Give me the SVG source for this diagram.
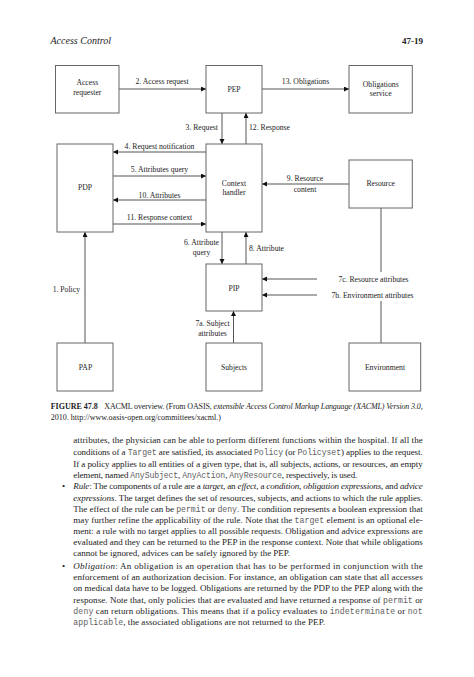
<svg xmlns="http://www.w3.org/2000/svg" width="474" height="677" viewBox="0 0 474 677">
<style>
.box{fill:#fff;stroke:#666;stroke-width:1}
.ln{stroke:#555;stroke-width:1;fill:none}
.t{font-family:"Liberation Serif",serif;font-size:7.7px;fill:#222}
.c{text-anchor:middle}
.e{text-anchor:end}
.body{font-family:"Liberation Serif",serif;font-size:9px;fill:#222}
.m{font-family:"Liberation Mono",monospace;fill:#606060;font-size:8.2px}
.i{font-style:italic}
.cap{font-family:"Liberation Serif",serif;font-size:8px;fill:#222}
</style>
<defs>
<marker id="ah" markerUnits="userSpaceOnUse" markerWidth="6" markerHeight="6" refX="5" refY="2.5" orient="auto">
<path d="M0,0 L5,2.5 L0,5 z" fill="#111"/>
</marker>
</defs>
<rect width="474" height="677" fill="#fff"/>
<text x="50.5" y="44" font-family="Liberation Serif,serif" font-style="italic" font-size="10" fill="#222">Access Control</text>
<text x="423" y="44" text-anchor="end" font-family="Liberation Serif,serif" font-weight="bold" font-size="9" fill="#222">47-19</text>

<g id="connectors">
<line class="ln" x1="119" y1="89" x2="206" y2="89" marker-end="url(#ah)"/>
<line class="ln" x1="262" y1="89" x2="349" y2="89" marker-end="url(#ah)"/>
<line class="ln" x1="222" y1="113" x2="222" y2="144" marker-end="url(#ah)"/>
<line class="ln" x1="246" y1="144" x2="246" y2="113" marker-end="url(#ah)"/>
<line class="ln" x1="206" y1="152" x2="113" y2="152" marker-end="url(#ah)"/>
<line class="ln" x1="113" y1="176" x2="206" y2="176" marker-end="url(#ah)"/>
<line class="ln" x1="206" y1="200" x2="113" y2="200" marker-end="url(#ah)"/>
<line class="ln" x1="113" y1="224" x2="206" y2="224" marker-end="url(#ah)"/>
<line class="ln" x1="349" y1="184" x2="262" y2="184" marker-end="url(#ah)"/>
<line class="ln" x1="222" y1="232" x2="222" y2="264" marker-end="url(#ah)"/>
<line class="ln" x1="246" y1="264" x2="246" y2="232" marker-end="url(#ah)"/>
<line class="ln" x1="85" y1="343" x2="85" y2="232" marker-end="url(#ah)"/>
<line class="ln" x1="233.5" y1="343" x2="233.5" y2="311" marker-end="url(#ah)"/>
<line class="ln" x1="317" y1="279" x2="262" y2="279" marker-end="url(#ah)"/>
<line class="ln" x1="317" y1="295" x2="262" y2="295" marker-end="url(#ah)"/>
<line class="ln" x1="381" y1="208" x2="381" y2="272"/>
<line class="ln" x1="381" y1="301" x2="381" y2="343"/>
<text class="t c" x="162" y="84">2. Access request</text>
<text class="t c" x="305.5" y="84">13. Obligations</text>
<text class="t e" x="218" y="129.5">3. Request</text>
<text class="t" x="249" y="129.5">12. Response</text>
<text class="t c" x="159.5" y="148.5">4. Request notification</text>
<text class="t c" x="159.5" y="172">5. Attributes query</text>
<text class="t c" x="159.5" y="197.5">10. Attributes</text>
<text class="t c" x="159.5" y="219.5">11. Response context</text>
<text class="t c" x="305" y="181.3">9. Resource</text>
<text class="t c" x="305" y="192.3">content</text>
<text class="t c" x="201.5" y="245">6. Attribute</text>
<text class="t c" x="201.5" y="254.5">query</text>
<text class="t" x="249" y="250.5">8. Attribute</text>
<text class="t c" x="373.5" y="282">7c. Resource attributes</text>
<text class="t c" x="372.5" y="298">7b. Environment attributes</text>
<text class="t e" x="80" y="292">1. Policy</text>
<text class="t c" x="212.5" y="326">7a. Subject</text>
<text class="t c" x="212.5" y="335.5">attributes</text>
</g>

<g id="access-requester"><rect class="box" x="55.5" y="65.5" width="63.5" height="47.5"/><text class="t c" x="87.3" y="85">Access</text><text class="t c" x="87.3" y="94.5">requester</text></g>
<g id="pep"><rect class="box" x="206" y="65.5" width="56" height="47.5"/><text class="t c" x="234" y="91.7">PEP</text></g>
<g id="obligations-service"><rect class="box" x="349" y="65.5" width="63.3" height="47.5"/><text class="t c" x="380.7" y="87">Obligations</text><text class="t c" x="380.7" y="96">service</text></g>
<g id="pdp"><rect class="box" x="57" y="144" width="56" height="88"/><text class="t c" x="85" y="190">PDP</text></g>
<g id="context-handler"><rect class="box" x="206" y="144" width="56" height="88"/><text class="t c" x="234" y="186">Context</text><text class="t c" x="234" y="195">handler</text></g>
<g id="resource"><rect class="box" x="349" y="160" width="63.3" height="48"/><text class="t c" x="380.7" y="185.5">Resource</text></g>
<g id="pip"><rect class="box" x="206" y="264" width="56" height="47"/><text class="t c" x="234" y="290.5">PIP</text></g>
<g id="pap"><rect class="box" x="57" y="343" width="56" height="48"/><text class="t c" x="85.5" y="369.5">PAP</text></g>
<g id="subjects"><rect class="box" x="206" y="343" width="56" height="48"/><text class="t c" x="234" y="369.5">Subjects</text></g>
<g id="environment"><rect class="box" x="349" y="343" width="71.7" height="48"/><text class="t c" x="385" y="369.5">Environment</text></g>

<text class="cap" x="50.7" y="408.5" font-weight="bold">FIGURE 47.8</text>
<text class="cap" x="104.3" y="408.5" textLength="318.4" lengthAdjust="spacing">XACML overview. (From OASIS, <tspan class="i">extensible Access Control Markup Language (XACML) Version 3.0,</tspan></text>
<text class="cap" x="50.7" y="420">2010. http://www.oasis-open.org/committees/xacml.)</text>

<g class="body">
<text x="73.3" y="443" textLength="349.4" lengthAdjust="spacing">attributes, the physician can be able to perform different functions within the hospital. If all the</text>
<text x="73.3" y="455" textLength="349.4" lengthAdjust="spacing">conditions of a <tspan class="m">Target</tspan> are satisfied, its associated <tspan class="m">Policy</tspan> (or <tspan class="m">Policyset</tspan>) applies to the request.</text>
<text x="73.3" y="467" textLength="349.4" lengthAdjust="spacing">If a policy applies to all entities of a given type, that is, all subjects, actions, or resources, an empty</text>
<text x="73.3" y="478" textLength="284" lengthAdjust="spacing">element, named <tspan class="m">AnySubject</tspan>, <tspan class="m">AnyAction</tspan>, <tspan class="m">AnyResource</tspan>, respectively, is used.</text>
<text x="62" y="489">•</text>
<text x="73.3" y="489" textLength="349.4" lengthAdjust="spacing"><tspan class="i">Rule</tspan>: The components of a rule are a <tspan class="i">target</tspan>, an <tspan class="i">effect</tspan>, a <tspan class="i">condition</tspan>, <tspan class="i">obligation expressions</tspan>, and <tspan class="i">advice</tspan></text>
<text x="73.3" y="501" textLength="349.4" lengthAdjust="spacing"><tspan class="i">expressions</tspan>. The target defines the set of resources, subjects, and actions to which the rule applies.</text>
<text x="73.3" y="512" textLength="349.4" lengthAdjust="spacing">The effect of the rule can be <tspan class="m">permit</tspan> or <tspan class="m">deny</tspan>. The condition represents a boolean expression that</text>
<text x="73.3" y="523" textLength="349.4" lengthAdjust="spacing">may further refine the applicability of the rule. Note that the <tspan class="m">target</tspan> element is an optional ele-</text>
<text x="73.3" y="534" textLength="349.4" lengthAdjust="spacing">ment: a rule with no target applies to all possible requests. Obligation and advice expressions are</text>
<text x="73.3" y="545" textLength="349.4" lengthAdjust="spacing">evaluated and they can be returned to the PEP in the response context. Note that while obligations</text>
<text x="73.3" y="556" textLength="216.7" lengthAdjust="spacing">cannot be ignored, advices can be safely ignored by the PEP.</text>
<text x="62" y="569">•</text>
<text x="73.3" y="569" textLength="349.4" lengthAdjust="spacing"><tspan class="i">Obligation</tspan>: An obligation is an operation that has to be performed in conjunction with the</text>
<text x="73.3" y="580" textLength="349.4" lengthAdjust="spacing">enforcement of an authorization decision. For instance, an obligation can state that all accesses</text>
<text x="73.3" y="591" textLength="349.4" lengthAdjust="spacing">on medical data have to be logged. Obligations are returned by the PDP to the PEP along with the</text>
<text x="73.3" y="603" textLength="349.4" lengthAdjust="spacing">response. Note that, only policies that are evaluated and have returned a response of <tspan class="m">permit</tspan> or</text>
<text x="73.3" y="614" textLength="349.4" lengthAdjust="spacing"><tspan class="m">deny</tspan> can return obligations. This means that if a policy evaluates to <tspan class="m">indeterminate</tspan> or <tspan class="m">not</tspan></text>
<text x="73.3" y="625" textLength="251.7" lengthAdjust="spacing"><tspan class="m">applicable</tspan>, the associated obligations are not returned to the PEP.</text>
</g>
</svg>
